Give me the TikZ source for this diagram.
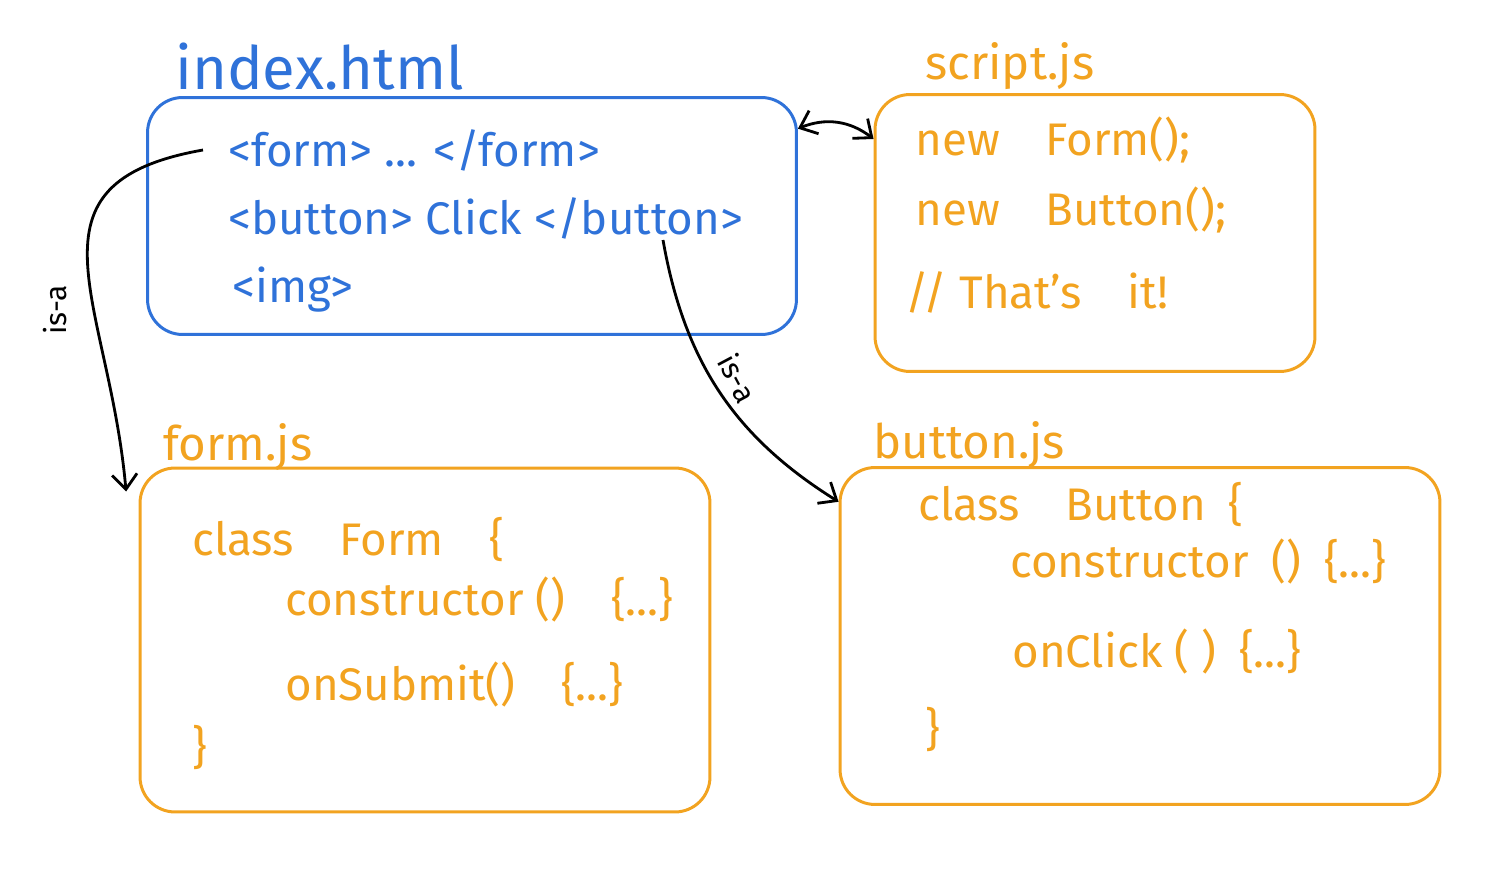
\documentclass[tikz,border=0pt]{standalone}
\usepackage{fontspec}
\setmainfont{Fira Sans}
\usetikzlibrary{arrows}
\usetikzlibrary{arrows.meta}
\usetikzlibrary{positioning}

\definecolor{htmlblue}{HTML}{2F72D9}
\definecolor{jsorange}{HTML}{F2A320}

\begin{document}
\begin{tikzpicture} [x=0.02cm, y=-0.02cm,
  box/.style={draw, line width=1.7pt, rounded corners=0.7cm, inner sep=0pt},
  code/.style={anchor=west, inner sep=0pt, font=\fontsize{26}{30}\selectfont},
  title/.style={anchor=base west, inner sep=0pt, font=\fontsize{27}{30}\selectfont},
  link/.style={black, line width=1.6pt, -{Straight Barb[length=3mm, width=5mm]}},
  isa/.style={inner sep=1pt, font=\fontsize{17}{20}\selectfont}]
\useasboundingbox (0,0) rectangle (1511,892);

% the four boxes
\node[box, htmlblue, minimum width=12.98cm, minimum height=4.74cm] (index) at (472,216) {};
\node[box, jsorange, minimum width=8.8cm, minimum height=5.54cm] (script) at (1095,233) {};
\node[box, jsorange, minimum width=11.4cm, minimum height=6.88cm] (formjs) at (425,640) {};
\node[box, jsorange, minimum width=12cm, minimum height=6.74cm] (buttonjs) at (1140,636) {};

% titles
\node[title, htmlblue, font=\fontsize{34}{38}\selectfont] (indextitle) at (175,90) {index.html};
\node[title, jsorange] (scripttitle) at (925,80) {script.js};
\node[title, jsorange] (formtitle) at (163,460) {form.js};
\node[title, jsorange] (buttontitle) at (873,458) {button.js};

% index.html
\node[code, htmlblue] (formtag) at (228,150) {<form> ... </form>};
\node[code, htmlblue] (buttontag) at (228,218) {<button> Click </button>};
\node[code, htmlblue] (imgtag) at (232,290) {<img>};

% script.js
\node[code, jsorange] (newform) at (915,140) {new\quad Form();};
\node[code, jsorange] (newbutton) at (915,210) {new\quad Button();};
\node[code, jsorange] (thatsit) at (905,292) {// That's\quad it!};

% form.js
\node[code, jsorange] (formclass) at (192,540) {class\quad Form\quad \{};
\node[code, jsorange] (formctor) at (285,600) {constructor ()\quad \{...\}};
\node[code, jsorange] (onsubmit) at (285,685) {onSubmit()\quad \{...\}};
\node[code, jsorange] (formend) at (192,748) {\}};

% button.js
\node[code, jsorange] (buttonclass) at (918,505) {class\quad Button\enspace \{};
\node[code, jsorange] (buttonctor) at (1010,562) {constructor\enspace ()\enspace \{...\}};
\node[code, jsorange] (onclick) at (1012,652) {onClick ( )\enspace \{...\}};
\node[code, jsorange] (buttonend) at (925,730) {\}};

% links
\draw[link, {Straight Barb[length=3mm, width=5mm]}-{Straight Barb[length=3mm, width=5mm]}] (index.15) to[bend left=30] (script.157);
\draw[link] ([xshift=-0.5cm]formtag.west) to[out=190, in=95, looseness=1.4] ([xshift=-0.25cm, yshift=-0.5cm]formjs.north west);
\node[isa, rotate=90] (isaleft) at (55,310) {is-a};
\coordinate (buttonfoot) at (663,240);
\draw[link] (buttonfoot) to[out=-80, in=148] (buttonjs.156);
\node[isa, rotate=-62] (isaright) at (738,378) {is-a};
\end{tikzpicture}
\end{document}
